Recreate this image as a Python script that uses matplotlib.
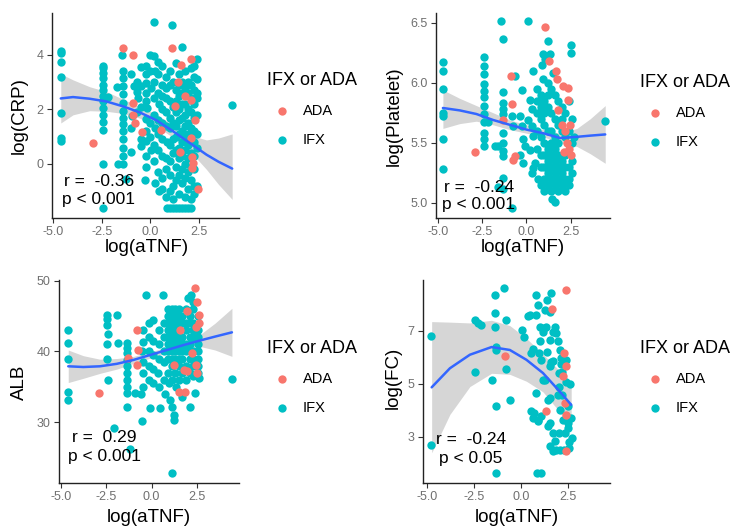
import numpy as np
import matplotlib.pyplot as plt

plt.rcParams['font.family'] = ['Liberation Sans', 'DejaVu Sans']

ADA_COL = "#F8766D"
IFX_COL = "#00BFC4"
FIT_COL = "#3366FF"
BAND_COL = "#999999"

# =====================================
# Data
# =====================================

x_ticks = [-5.0, -2.5, 0.0, 2.5]
x_tick_labels = ["-5.0", "-2.5", "0.0", "2.5"]

# ---- log(CRP) ----
crp_ifx = [(-4.6, 4.15), (-4.6, 4.05), (-4.6, 3.75), (-4.6, 3.2), (-4.6, 1.85), (-4.6, 0.95), (-4.6, 0.85),
           (-2.45, 3.6), (-2.45, 3.5), (-2.45, 3.35), (-2.45, 3.15), (-2.45, 2.9), (-2.45, 2.7), (-2.45, 2.5),
           (-2.45, 2.3), (-2.45, 2.05), (-2.45, 1.8), (-2.45, 1.55), (-2.45, 1.25), (-2.45, 0.0), (-2.45, -1.6),
           (-2.2, 2.45), (-1.73, 2.83), (-1.65, 0.0),
           (-1.4, 3.4), (-1.4, 3.15), (-1.4, 2.85), (-1.4, 2.55), (-1.4, 2.25), (-1.4, 1.95), (-1.4, 1.7),
           (-1.4, 1.45), (-1.4, 1.2), (-1.4, 0.9), (-1.4, 0.6), (-1.4, 0.3), (-1.4, 0.0), (-1.25, -0.55),
           (-1.48, 4.0),
           (-1.0, 3.3), (-0.85, 2.85), (-1.0, 1.3), (-1.0, 0.45), (-0.95, 1.75), (-0.7, 3.0), (-0.7, 2.65),
           (-0.65, 2.4), (-0.7, 1.9), (-0.5, 3.55), (-0.5, 2.85), (-0.5, 2.1), (-0.5, 0.9), (-0.5, 0.65),
           (-0.2, 3.6), (-0.2, 3.3), (-0.2, 2.95), (-0.2, 2.6), (-0.2, 2.3), (-0.15, 2.05), (-0.2, 1.65),
           (-0.2, 1.2), (-0.2, 0.85), (-0.25, 0.3), (-0.2, -0.1), (-0.3, -0.6),
           (0.0, 4.0), (0.0, 3.4), (0.05, 2.8), (0.0, 1.5), (0.0, 1.0), (0.05, 0.5),
           (0.2, 5.2), (0.2, 3.95), (0.25, 3.4), (0.2, 3.0), (0.2, 2.4), (0.2, 1.8), (0.25, 1.3), (0.2, 0.7),
           (0.2, 0.1), (0.25, -0.7),
           (0.4, 3.75), (0.4, 3.3), (0.4, 2.6), (0.45, 2.2), (0.4, 1.6), (0.4, 1.1), (0.4, 0.5), (0.4, -0.3),
           (0.45, -1.0),
           (0.6, 3.6), (0.6, 2.9), (0.6, 2.5), (0.6, 2.0), (0.6, 1.5), (0.6, 0.9), (0.6, 0.3), (0.6, -0.5),
           (0.6, -0.9),
           (0.8, 3.2), (0.8, 2.8), (0.8, 2.4), (0.8, 1.9), (0.8, 1.4), (0.85, 0.8), (0.8, 0.2), (0.8, -0.2),
           (0.8, -1.2), (0.85, -1.6),
           (1.0, 3.4), (1.0, 2.9), (1.0, 2.3), (1.0, 1.7), (1.0, 1.3), (1.0, 0.7), (1.0, 0.1), (1.0, -0.4),
           (1.0, -1.0), (1.0, -1.6),
           (1.1, 5.1), (1.15, 3.0), (1.15, 2.1), (1.15, 1.5), (1.15, 0.9), (1.15, 0.4), (1.15, -0.8),
           (1.15, -1.3), (1.15, -1.6),
           (1.3, 3.7), (1.3, 2.7), (1.3, 2.3), (1.3, 1.9), (1.3, 1.4), (1.3, 1.0), (1.3, 0.5), (1.3, -0.1),
           (1.3, -0.6), (1.3, -1.6),
           (1.45, 3.3), (1.45, 2.9), (1.45, 2.5), (1.45, 2.0), (1.45, 1.6), (1.45, 1.1), (1.45, 0.6),
           (1.45, 0.2), (1.45, -0.4), (1.45, -1.1), (1.45, -1.6),
           (1.6, 4.3), (1.6, 3.0), (1.6, 2.6), (1.6, 2.2), (1.6, 1.7), (1.6, 1.2), (1.6, 0.8), (1.6, 0.3),
           (1.6, -0.2), (1.6, -0.7), (1.6, -1.6),
           (1.8, 3.4), (1.8, 2.8), (1.8, 2.2), (1.8, 1.8), (1.8, 1.4), (1.8, 1.0), (1.8, 0.5), (1.8, 0.0),
           (1.8, -0.5), (1.8, -1.2), (1.8, -1.6),
           (1.95, 3.0), (1.95, 2.6), (1.95, 2.0), (1.95, 1.5), (1.95, 1.1), (1.95, 0.7), (1.95, 0.2),
           (1.95, -0.3), (1.95, -0.9), (1.95, -1.6),
           (2.1, 3.5), (2.1, 2.9), (2.1, 2.4), (2.1, 1.9), (2.1, 1.3), (2.1, 0.9), (2.1, 0.4), (2.1, -0.1),
           (2.1, -0.6), (2.1, -1.3), (2.1, -1.6),
           (2.25, 3.6), (2.25, 3.2), (2.25, 2.7), (2.25, 2.2), (2.25, 1.7), (2.25, 1.2), (2.25, 0.8),
           (2.25, 0.3), (2.25, -0.2), (2.25, -0.8), (2.25, -1.1),
           (2.4, 3.85), (2.4, 3.1), (2.4, 2.6), (2.4, 2.4), (2.4, 1.8), (2.4, 1.1), (2.4, 0.6), (2.4, -0.8),
           (4.2, 2.15)]
crp_ada = [(-2.95, 0.78), (-1.4, 4.25), (-0.88, 4.0), (-0.88, 2.25), (-0.9, 1.8), (-0.8, 1.5), (-0.45, 1.18),
           (0.55, 1.25), (1.1, 4.25), (1.58, 3.63), (1.43, 3.0), (1.26, 2.14), (2.1, 3.85), (2.1, 2.35),
           (2.1, 0.95), (2.15, 0.25), (2.2, 0.05), (2.12, -0.15), (2.45, -0.92), (1.5, 0.45), (1.8, 2.5),
           (2.3, 1.6)]
crp_fit_x = [-4.6, -3.97, -3.12, -2.26, -1.4, -0.55, 0.31, 1.16, 2.02, 2.88, 3.5, 4.2]
crp_fit_y = [2.40, 2.45, 2.39, 2.29, 2.11, 1.89, 1.60, 1.20, 0.77, 0.34, 0.08, -0.17]
crp_fit_lo = [1.5, 1.8, 1.95, 1.93, 1.85, 1.68, 1.38, 0.97, 0.48, -0.2, -0.75, -1.3]
crp_fit_hi = [3.3, 3.08, 2.83, 2.65, 2.37, 2.1, 1.82, 1.43, 1.06, 0.88, 0.95, 1.1]

# ---- log(Platelet) ----
plt_ifx = [(-4.72, 6.17), (-4.72, 6.1), (-4.72, 5.95), (-4.72, 5.75), (-4.72, 5.72), (-4.72, 5.53), (-4.72, 5.28),
           (-2.41, 6.21), (-2.41, 6.14), (-2.41, 6.07), (-2.41, 5.99), (-2.41, 5.93), (-2.41, 5.88), (-2.41, 5.81),
           (-2.41, 5.74), (-2.41, 5.67), (-2.41, 5.58), (-2.41, 5.53), (-2.41, 5.47),
           (-2.16, 5.67), (-1.79, 5.47), (-1.6, 5.47), (-1.6, 5.13), (-1.41, 6.51), (-1.35, 6.36),
           (-1.31, 5.92), (-1.31, 5.83), (-1.31, 5.78), (-1.31, 5.74), (-1.31, 5.58), (-1.31, 5.5), (-1.31, 5.43),
           (-1.31, 5.39), (-1.35, 5.12), (-1.31, 5.21),
           (-0.84, 4.96), (-0.65, 6.06), (-0.84, 5.72), (-0.75, 5.64),
           (-0.27, 5.94), (-0.37, 5.72), (-0.27, 5.64), (-0.18, 5.53), (-0.09, 5.47), (-0.37, 5.4), (-0.18, 5.33),
           (0.1, 6.51), (0.2, 5.86), (0.29, 5.78), (0.1, 5.69), (0.29, 5.64), (0.39, 5.56), (0.2, 5.44),
           (0.48, 5.33), (0.39, 5.29), (0.39, 6.1), (0.3, 5.25),
           (0.86, 6.15), (0.92, 6.24), (0.95, 6.03), (1.24, 6.35), (1.33, 6.24), (1.43, 5.03), (1.62, 5.01),
           (2.5, 6.31), (2.5, 6.25), (4.45, 5.68),
           (0.6, 5.95), (0.6, 5.85), (0.6, 5.75), (0.6, 5.6), (0.6, 5.45), (0.65, 5.2),
           (0.8, 5.9), (0.8, 5.8), (0.8, 5.7), (0.8, 5.55), (0.8, 5.4), (0.8, 5.3), (0.8, 5.15),
           (1.0, 5.85), (1.0, 5.75), (1.0, 5.65), (1.0, 5.5), (1.0, 5.4), (1.0, 5.3), (1.0, 5.2), (1.0, 5.1),
           (1.2, 6.0), (1.2, 5.9), (1.2, 5.8), (1.2, 5.6), (1.2, 5.45), (1.2, 5.35), (1.2, 5.25), (1.2, 5.15),
           (1.4, 5.95), (1.4, 5.75), (1.4, 5.6), (1.4, 5.5), (1.4, 5.4), (1.4, 5.3), (1.4, 5.2), (1.4, 5.1),
           (1.6, 5.9), (1.6, 5.7), (1.6, 5.55), (1.6, 5.45), (1.6, 5.35), (1.6, 5.25), (1.6, 5.15),
           (1.8, 5.85), (1.8, 5.65), (1.8, 5.5), (1.8, 5.4), (1.8, 5.3), (1.8, 5.2), (1.8, 5.1),
           (2.0, 5.8), (2.0, 5.7), (2.0, 5.6), (2.0, 5.35), (2.0, 5.25), (2.0, 5.15),
           (2.2, 5.75), (2.2, 5.55), (2.2, 5.4), (2.2, 5.3), (2.2, 5.2), (2.2, 5.1),
           (2.4, 5.85), (2.4, 5.6), (2.4, 5.3), (2.4, 5.2), (2.4, 5.15),
           (2.6, 5.7), (2.6, 5.5), (2.6, 5.35), (2.6, 5.25), (2.7, 5.55), (1.5, 6.08), (1.05, 6.2)]
plt_ada = [(-2.92, 5.42), (-1.31, 5.69), (-0.86, 6.06), (-0.8, 5.82), (-0.62, 5.39), (-0.76, 5.36),
           (1.05, 6.46), (1.25, 6.18), (1.67, 6.1), (1.7, 6.03), (2.09, 5.97), (2.37, 5.96), (2.37, 5.86),
           (1.78, 5.77), (2.0, 5.65), (2.2, 5.6), (2.3, 5.5), (2.4, 5.45), (2.45, 5.65), (2.1, 5.42),
           (2.5, 5.4)]
plt_fit_x = [-4.72, -3.77, -2.83, -1.88, -0.94, 0.01, 0.95, 1.9, 2.85, 3.6, 4.45]
plt_fit_y = [5.79, 5.77, 5.74, 5.69, 5.65, 5.61, 5.58, 5.54, 5.55, 5.56, 5.57]
plt_fit_lo = [5.62, 5.66, 5.68, 5.65, 5.61, 5.58, 5.55, 5.50, 5.47, 5.41, 5.33]
plt_fit_hi = [5.94, 5.87, 5.81, 5.75, 5.69, 5.65, 5.61, 5.58, 5.62, 5.70, 5.81]

# ---- ALB ----
alb_ifx = [(-4.6, 43.1), (-4.6, 41.2), (-4.6, 39.0), (-4.6, 34.2), (-4.6, 33.2),
           (-2.44, 45.2), (-2.44, 44.6), (-2.44, 43.8), (-2.4, 42.5), (-2.44, 41.0), (-2.44, 39.0), (-2.4, 36.0),
           (-2.1, 29.2), (-1.92, 45.2), (-1.83, 41.2),
           (-1.37, 41.2), (-1.37, 40.5), (-1.37, 39.8), (-1.37, 38.8), (-1.37, 37.9), (-1.37, 36.9),
           (-1.37, 36.0), (-1.37, 35.0), (-1.37, 34.1), (-1.37, 32.2), (-1.22, 26.2),
           (-0.9, 34.1), (-0.5, 43.0), (-0.5, 41.3), (-0.55, 40.0), (-0.5, 38.5), (-0.5, 37.0), (-0.5, 35.0),
           (-0.6, 34.0), (-0.54, 30.1), (-0.32, 48.0), (0.65, 48.0),
           (-0.17, 44.0), (-0.17, 42.0), (-0.17, 40.0), (-0.17, 38.0), (-0.17, 36.0), (-0.1, 32.0),
           (0.1, 44.5), (0.1, 41.5), (0.1, 39.5), (0.1, 37.5), (0.1, 35.5),
           (0.4, 43.0), (0.4, 41.0), (0.4, 39.0), (0.35, 37.0), (0.4, 35.0), (0.45, 32.0),
           (0.7, 44.0), (0.7, 42.0), (0.7, 40.0), (0.7, 38.5), (0.7, 36.0), (0.75, 34.0),
           (0.9, 46.0), (0.9, 45.0), (0.9, 44.0), (0.9, 43.0), (0.9, 42.0), (0.9, 41.0), (0.9, 40.0),
           (0.9, 39.0), (0.9, 37.0), (0.95, 35.5),
           (1.1, 46.0), (1.1, 45.0), (1.1, 44.0), (1.1, 43.0), (1.1, 42.0), (1.1, 41.0), (1.1, 40.0),
           (1.1, 39.0), (1.1, 38.0), (1.1, 36.0), (1.11, 32.2), (1.02, 33.2), (1.21, 31.0), (1.21, 30.3),
           (1.11, 22.8),
           (1.3, 46.0), (1.3, 45.0), (1.3, 44.0), (1.3, 43.0), (1.3, 42.0), (1.3, 41.0), (1.3, 40.0),
           (1.3, 39.0), (1.3, 37.0), (1.35, 35.0),
           (1.5, 46.0), (1.5, 45.0), (1.5, 44.0), (1.5, 43.0), (1.5, 42.0), (1.5, 41.0), (1.5, 40.0),
           (1.5, 39.0), (1.5, 38.0), (1.5, 36.0),
           (1.67, 33.6), (1.7, 45.0), (1.7, 44.0), (1.7, 42.0), (1.7, 41.0), (1.7, 40.0), (1.7, 39.0), (1.7, 37.0),
           (1.9, 46.0), (1.9, 44.0), (1.9, 43.0), (1.9, 41.0), (1.9, 40.0), (1.9, 38.0), (1.9, 36.0),
           (2.03, 47.5), (2.16, 48.0), (2.13, 32.2),
           (2.1, 45.0), (2.1, 44.0), (2.1, 42.0), (2.1, 41.0), (2.1, 40.0), (2.1, 39.0), (2.1, 37.0),
           (2.3, 47.0), (2.3, 46.0), (2.3, 44.0), (2.3, 43.0), (2.3, 42.0), (2.3, 40.0), (2.3, 39.0),
           (2.3, 38.0), (2.3, 36.5), (2.4, 34.1), (2.59, 36.2),
           (2.55, 45.0), (2.55, 43.0), (2.55, 42.0), (2.55, 41.0), (2.55, 40.0), (2.55, 39.0), (2.55, 38.0),
           (2.55, 37.0), (4.43, 36.1)]
alb_ada = [(-2.9, 34.1), (-1.28, 39.1), (-0.82, 43.1), (-0.76, 40.2), (-0.8, 38.1), (2.4, 49.0), (2.48, 47.0),
           (2.6, 45.2), (2.6, 44.0), (1.94, 45.7), (1.76, 37.4), (1.94, 37.2), (1.21, 38.1), (2.45, 38.1),
           (2.5, 36.9), (2.2, 39.8), (1.5, 34.2), (1.85, 34.3), (1.56, 43.0), (2.45, 43.5)]
alb_fit_x = [-4.6, -3.77, -2.85, -1.92, -1.0, -0.08, 0.84, 1.76, 2.68, 3.5, 4.43]
alb_fit_y = [37.9, 37.8, 37.9, 38.25, 38.8, 39.5, 40.2, 40.9, 41.55, 42.1, 42.7]
alb_fit_lo = [35.6, 36.2, 36.9, 37.5, 38.3, 39.05, 39.8, 40.45, 40.7, 40.2, 39.3]
alb_fit_hi = [40.2, 39.4, 38.9, 39.0, 39.3, 39.95, 40.6, 41.35, 42.4, 44.0, 46.1]

# ---- log(FC) ----
fc_ifx = [(-4.77, 6.81), (-4.77, 2.71), (-2.44, 5.43), (-2.44, 7.41), (-2.27, 7.29), (-2.14, 7.23),
          (-1.56, 5.16), (-1.38, 8.36), (-1.38, 7.66), (-1.38, 7.16), (-1.35, 6.39), (-1.35, 6.26),
          (-1.35, 4.15), (-1.35, 1.64), (-0.91, 8.61), (-0.8, 7.41), (-0.8, 5.56), (-0.56, 4.38),
          (0.08, 7.04), (0.17, 6.76), (0.38, 7.56), (0.5, 7.6), (0.64, 6.31), (0.82, 8.36), (0.82, 7.6),
          (0.9, 7.98), (0.78, 4.65), (0.68, 3.9), (0.91, 3.61), (0.85, 1.64), (1.05, 1.64),
          (1.0, 6.6), (1.15, 6.97), (1.0, 7.16), (1.21, 7.1), (1.35, 7.14), (1.38, 8.17), (1.3, 7.79),
          (1.53, 7.73), (1.56, 6.66), (1.61, 8.42), (1.4, 6.22), (1.08, 5.91), (0.96, 6.18), (1.26, 5.16),
          (1.08, 3.78), (1.44, 4.4), (1.44, 3.4), (1.53, 5.66), (1.7, 5.85), (1.7, 6.97), (1.79, 7.16),
          (1.88, 6.91), (1.97, 6.6), (2.02, 5.41), (2.02, 4.9), (2.05, 4.03), (2.0, 3.15), (1.7, 3.15),
          (1.53, 2.65), (1.7, 2.46), (1.79, 2.83), (1.88, 2.52), (2.1, 6.28), (2.14, 5.97), (2.14, 5.76),
          (2.2, 5.45), (2.19, 4.59), (2.26, 3.65), (2.32, 3.15), (2.3, 2.49), (2.05, 2.49), (2.37, 5.91),
          (2.4, 5.09), (2.5, 4.15), (2.5, 3.52), (2.55, 2.8), (2.55, 2.58), (2.62, 5.0), (2.64, 3.71),
          (2.72, 2.96), (2.5, 3.34), (0.56, 6.18), (1.61, 5.84), (1.17, 5.15), (1.52, 4.45), (1.97, 4.58),
          (0.55, 3.96), (0.64, 3.7), (0.9, 3.64), (1.52, 3.52)]
fc_ada = [(-0.82, 6.06), (1.35, 3.96), (1.65, 7.82), (2.37, 8.54), (2.28, 6.18), (2.4, 5.66), (2.26, 5.28),
          (2.32, 4.28), (2.4, 3.84), (2.37, 2.46)]
fc_fit_x = [-4.74, -3.77, -2.71, -1.56, -0.59, 0.29, 1.17, 2.05, 2.67]
fc_fit_y = [4.87, 5.59, 6.10, 6.39, 6.28, 5.91, 5.41, 4.72, 4.21]
fc_fit_lo = [2.4, 3.85, 4.9, 5.4, 5.36, 5.1, 4.7, 3.95, 3.35]
fc_fit_hi = [7.35, 7.33, 7.3, 7.4, 7.2, 6.72, 6.12, 5.5, 5.05]

# =====================================
# Layout (pixels of a 734 x 527 image)
# =====================================

W, H = 734, 527

panels = [
    dict(ifx=crp_ifx, ada=crp_ada, fx=crp_fit_x, fy=crp_fit_y, lo=crp_fit_lo, hi=crp_fit_hi,
         box=(52, 13, 239, 218), xlim=(-5.05, 4.55), ylim=(-1.98, 5.53), yticks=[0, 2, 4],
         ytl=["0", "2", "4"],
         ylabel="log(CRP)", ylab_pos=(19, 116), xlab_pos=(147, 247),
         stat=("r =  -0.36", "p < 0.001"), stat_pos=(99, 181, 199), leg_pos=(267, 72)),
    dict(ifx=plt_ifx, ada=plt_ada, fx=plt_fit_x, fy=plt_fit_y, lo=plt_fit_lo, hi=plt_fit_hi,
         box=(436, 13, 610, 218), xlim=(-5.11, 4.72), ylim=(4.875, 6.58), yticks=[5.0, 5.5, 6.0, 6.5],
         ytl=["5.0", "5.5", "6.0", "6.5"],
         ylabel="log(Platelet)", ylab_pos=(394, 116), xlab_pos=(523, 247),
         stat=("r =  -0.24", "p < 0.001"), stat_pos=(479, 187, 204), leg_pos=(640, 74)),
    dict(ifx=alb_ifx, ada=alb_ada, fx=alb_fit_x, fy=alb_fit_y, lo=alb_fit_lo, hi=alb_fit_hi,
         box=(59, 280, 239, 483), xlim=(-5.11, 4.82), ylim=(21.4, 50.1), yticks=[30, 40, 50],
         ytl=["30", "40", "50"],
         ylabel="ALB", ylab_pos=(19, 382), xlab_pos=(149, 517),
         stat=("r =  0.29", "p < 0.001"), stat_pos=(104, 438, 456), leg_pos=(267, 340)),
    dict(ifx=fc_ifx, ada=fc_ada, fx=fc_fit_x, fy=fc_fit_y, lo=fc_fit_lo, hi=fc_fit_hi,
         box=(423, 280, 610, 483), xlim=(-5.2, 4.73), ylim=(1.26, 8.92), yticks=[3, 5, 7],
         ytl=["3", "5", "7"],
         ylabel="log(FC)", ylab_pos=(393, 378), xlab_pos=(517, 517),
         stat=("r =  -0.24", "p < 0.05"), stat_pos=(471, 439, 458), leg_pos=(640, 340)),
]


def fx(px):
    return px / W


def fy(py):
    return 1 - py / H


fig = plt.figure(figsize=(W / 100, H / 100), dpi=100)

for p in panels:
    l, t, r, b = p["box"]
    ax = fig.add_axes([fx(l), fy(b), (r - l) / W, (b - t) / H])

    # confidence band under the points, fit line on top
    ax.fill_between(p["fx"], p["lo"], p["hi"], color=BAND_COL, alpha=0.4, lw=0, zorder=1)

    ifx = np.array(p["ifx"])
    ada = np.array(p["ada"])
    h_ifx = ax.scatter(ifx[:, 0], ifx[:, 1], s=36, color=IFX_COL, lw=0, zorder=2)
    h_ada = ax.scatter(ada[:, 0], ada[:, 1], s=36, color=ADA_COL, lw=0, zorder=3)

    ax.plot(p["fx"], p["fy"], color=FIT_COL, lw=1.8, zorder=4, solid_capstyle="round")

    ax.set_xlim(p["xlim"])
    ax.set_ylim(p["ylim"])
    ax.set_xticks(x_ticks)
    ax.set_xticklabels(x_tick_labels)
    ax.set_yticks(p["yticks"])
    ax.set_yticklabels(p["ytl"])

    for side in ["top", "right"]:
        ax.spines[side].set_visible(False)
    for side in ["left", "bottom"]:
        ax.spines[side].set_linewidth(1.0)
        ax.spines[side].set_color("#222222")
    ax.tick_params(length=3.5, width=0.8, color="#333333", labelcolor="#707070",
                   labelsize=9, pad=2.5)

    # axis titles
    fig.text(fx(p["ylab_pos"][0]), fy(p["ylab_pos"][1]), p["ylabel"], rotation=90,
             ha="center", va="center", fontsize=13.5)
    fig.text(fx(p["xlab_pos"][0]), fy(p["xlab_pos"][1]), "log(aTNF)",
             ha="center", va="center", fontsize=13.5)

    # correlation label
    sx, sy1, sy2 = p["stat_pos"]
    fig.text(fx(sx), fy(sy1), p["stat"][0], ha="center", va="center", fontsize=12.5)
    fig.text(fx(sx), fy(sy2), p["stat"][1], ha="center", va="center", fontsize=12.5)

    # legend
    lx, ly = p["leg_pos"]
    ax.legend([h_ada, h_ifx], ["ADA", "IFX"], title="IFX or ADA",
              loc="upper left", bbox_to_anchor=(fx(lx), fy(ly)), bbox_transform=fig.transFigure,
              frameon=False, fontsize=10.5, title_fontsize=13, alignment="left",
              borderpad=0, borderaxespad=0, handlelength=2.0, handletextpad=0.45,
              labelspacing=1.02)

fig.savefig("out.png", dpi=100)
